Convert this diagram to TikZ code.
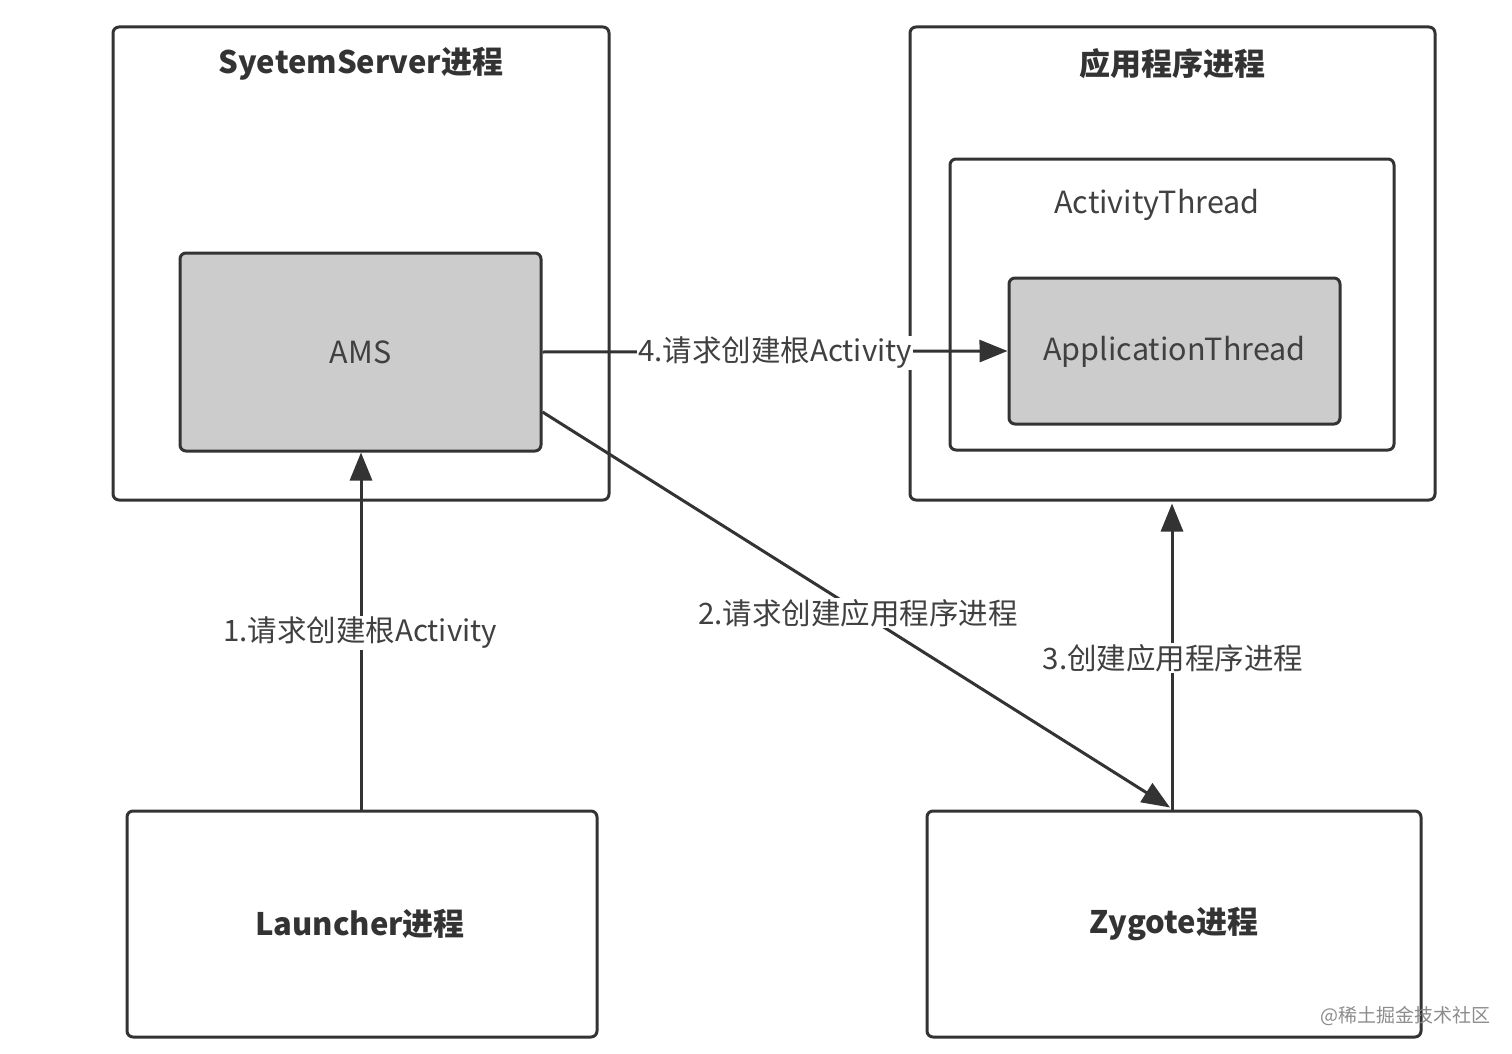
\documentclass[tikz,border=0pt]{standalone}
\usepackage{fontspec}
\setmainfont{Noto Sans CJK SC}
\usetikzlibrary{arrows.meta,calc}
\tikzset{
  box/.style={draw=black!80, line width=3pt, rounded corners=6pt, fill=white, inner sep=0pt},
  graybox/.style={box, fill=black!20},
  ttl/.style={font=\fontsize{31}{33}\selectfont\bfseries, text=black!80},
  txt/.style={font=\fontsize{30.5}{33}\selectfont, text=black!75},
  lbl/.style={font=\fontsize{29.5}{32}\selectfont, text=black!75, fill=white, inner sep=1pt},
  arr/.style={draw=black!80, line width=3pt, -{Triangle[length=28pt,width=22pt]}}
}
\begin{document}
\begin{tikzpicture}[x=1pt,y=-1pt]
\useasboundingbox (0,0) rectangle (1512,1054);
% outer boxes
\node[box, minimum width=496pt, minimum height=473pt] (ss) at (361,263.5) {};
\node[ttl] (sst) at (361,64) {SyetemServer进程};
\node[graybox, minimum width=361pt, minimum height=198pt] (ams) at (360.5,352) {};
\node[txt] (amst) at (360.5,352) {AMS};

\node[box, minimum width=525pt, minimum height=473pt] (app) at (1172.5,263.5) {};
\node[ttl] (appt) at (1172,64) {应用程序进程};
\node[box, minimum width=444pt, minimum height=291pt] (at) at (1172,304.5) {};
\node[txt] (att) at (1157,205) {ActivityThread};
\node[graybox, minimum width=331pt, minimum height=146pt] (apt) at (1174.5,351) {};
\node[txt] (aptt) at (1174.5,352) {ApplicationThread};

\node[box, minimum width=470pt, minimum height=226pt] (la) at (362,924) {};
\node[ttl] (lat) at (360,924) {Launcher进程};
\node[box, minimum width=494pt, minimum height=226pt] (zy) at (1174,924) {};
\node[ttl] (zyt) at (1174,924) {Zygote进程};

% connectors
\coordinate (a1s) at ($(la.north)+(-1,0)$);
\draw[arr] (a1s) -- (a1s |- ams.south);
\coordinate (a2s) at ($(ams.east)+(0,60)$);
\coordinate (a2e) at ($(zy.north)+(-4,-2)$);
\draw[arr] (a2s) -- (a2e);
\coordinate (a3s) at ($(zy.north)+(-2,0)$);
\coordinate (a3e) at ($(a3s |- app.south)+(0,2)$);
\draw[arr] (a3s) -- (a3e);
\draw[arr] (ams.east) -- (apt.west);

% labels
\node[lbl] (l1) at (360,633) {1.请求创建根Activity};
\node[lbl] (l2) at (858,613) {2.请求创建应用程序进程};
\node[lbl] (l3) at (1173,658) {3.创建应用程序进程};
\node[lbl] (l4) at (775,353) {4.请求创建根Activity};

\node[font=\fontsize{19}{20}\selectfont, text=black!45] (wm) at (1405,1016) {@稀土掘金技术社区};
\end{tikzpicture}
\end{document}
